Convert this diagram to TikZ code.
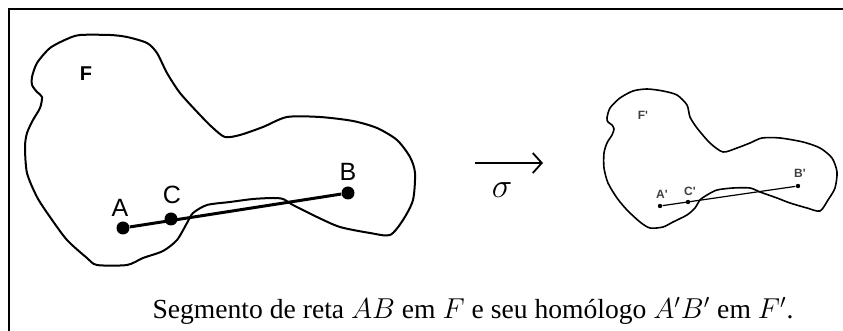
\documentclass[tikz,border=0pt]{standalone}
\usepackage{fontspec}
\setmainfont{Liberation Serif}
\newfontfamily\arialf{Liberation Sans}
\usetikzlibrary{arrows.meta, positioning}

\begin{document}
\begin{tikzpicture}[
  x=0.5pt, y=-0.5pt,
  outl/.style={line width=1pt, line join=round},
  seg/.style={line width=1.5pt},
  dot/.style={circle, fill, inner sep=0pt, minimum size=#1},
  lbl/.style={font=\arialf\fontsize{12.5}{14}\selectfont, inner sep=1pt},
  sml/.style={font=\arialf\fontsize{6}{7}\selectfont\bfseries, text=black!75, inner sep=0.5pt},
]

\useasboundingbox (0,0) rectangle (843,331);

% Frame (only top and left edges show)
\draw[line width=1.1pt] (9,331) -- (9,9) -- (843,9);

% === Figure F ===
\draw[outl] plot[smooth cycle, tension=0.45] coordinates {
  (32,77) (37,63) (50,48) (67,39) (80,35) (110,35) (127,37) (147,43)
  (157,53) (167,73) (180,93) (200,115) (213,128) (225,137) (240,135)
  (263,127) (287,117) (320,117) (353,121) (377,128) (397,140) (410,157)
  (415,173) (413,200) (403,220) (390,235) (370,233) (340,227) (317,217)
  (293,205) (283,199) (273,198) (253,199) (230,202) (207,205) (193,213)
  (187,223) (177,240) (163,251) (143,258) (127,265) (97,265) (87,258)
  (67,240) (50,217) (37,197) (27,173) (25,147) (27,133) (33,120)
  (40,108) (42,97) (37,92) (32,85)};

\node[font=\arialf\fontsize{10}{11}\selectfont\bfseries] (nF) at (86,74) {F};

\node[dot=13pt*0.5] (A) at (123,228) {};
\node[dot=13pt*0.5] (C) at (171,219) {};
\node[dot=13pt*0.5] (B) at (348,193) {};
\draw[seg] (A) -- (B);

\node[lbl] (lA) at (120,208) {A};
\node[lbl] (lC) at (172,195) {C};
\node[lbl] (lB) at (348,172) {B};

% === Transformation ===
\coordinate (s1) at (475,163);
\coordinate (s2) at (543,163);
\draw[line width=0.8pt, -{Straight Barb[length=4.5pt, width=10pt, line width=0.9pt]}] (s1) -- (s2);
\node[font=\fontsize{17}{19}\selectfont] (sig) at (502,190) {$\sigma$};

% === Figure F' ===
\draw[outl, line width=0.8pt] plot[smooth cycle, tension=0.45] coordinates {
  (607,118) (610,108) (620,98) (633,91) (647,89) (663,91) (677,95)
  (687,105) (690,117) (697,128) (710,143) (723,152) (737,148) (750,143)
  (762,138) (780,138) (803,142) (820,148) (832,158) (837,172) (835,188)
  (828,200) (820,211) (807,208) (790,203) (777,198) (760,192) (750,188)
  (733,188) (717,190) (707,195) (700,200) (695,208) (687,215) (673,222)
  (663,227) (650,228) (640,222) (627,210) (617,198) (608,183) (604,168)
  (604,153) (607,143) (612,135) (614,129) (612,125) (608,122)};

\node[sml] (nFp) at (643,115) {F'};

\node[dot=2.2pt] (Ap) at (660,206) {};
\node[dot=2.2pt] (Cp) at (688,202) {};
\node[dot=2.2pt] (Bp) at (798,186) {};
\draw[line width=0.6pt] (Ap) -- (Bp);

\node[sml] (lAp) at (662,194) {A'};
\node[sml] (lCp) at (690,191) {C'};
\node[sml] (lBp) at (800,173) {B'};

% Caption
\node[font=\fontsize{13.8}{16}\selectfont] (cap) at (473,311)
  {Segmento de reta $AB$ em $F$ e seu homólogo $A'B'$ em $F'$.};

\end{tikzpicture}
\end{document}
